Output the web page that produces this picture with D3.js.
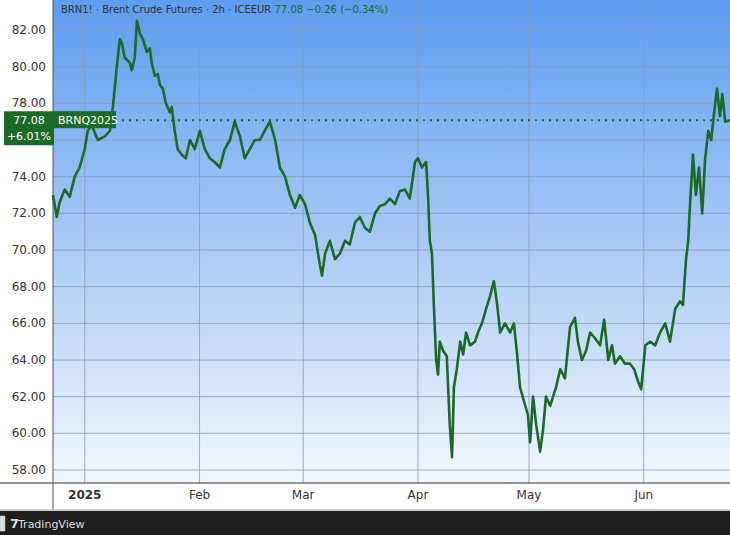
<!DOCTYPE html>
<html>
<head>
<script src="https://d3js.org/d3.v7.min.js"></script>
<style>
  body { margin: 0; background: #fff; }
  svg { display: block; font-family: "DejaVu Sans", sans-serif; }
</style>
</head>
<body>
<svg id="chart" width="730" height="535"></svg>
<script>
// days since 2025-01-01 and price
const days = [-8.6,-7.6,-6.8,-5.4,-4.1,-2.7,-1.4,0,0.8,1.9,3.5,5.4,6.8,7.6,8.9,9.5,10,10.8,12.2,12.7,13.5,14.1,14.9,15.7,16.8,17.6,18.1,18.9,19.7,20.3,21.1,21.9,23,23.5,24.3,25.1,26.2,27.3,28.4,29.7,31.1,32.4,33.8,35.1,36.5,37.8,39.2,40.5,41.9,43.2,44.6,45.9,47.3,48.6,50,51.4,52.7,54.1,55.4,56.8,58.1,59.5,60.8,62.2,63.5,64.1,64.9,66.2,67.6,68.9,70.3,71.6,73,74.3,75.7,77,78.4,79.7,81.1,82.4,83.8,85.1,86.5,87.8,89.2,90,91.1,92.2,92.7,93.2,93.8,94.3,94.9,95.4,95.9,96.8,97.8,98.6,99.2,99.7,100.5,101.4,102.2,103,104.1,105.4,106.2,107.3,108.4,109.5,110.5,111.4,112.2,113.5,114.9,115.9,116.8,117.6,118.6,119.7,120.3,121.1,121.9,123,123.8,124.6,125.7,126.5,127.3,128.4,129.7,131.1,132.4,133.2,134.3,135.4,136.5,137.8,139.2,140.3,141.4,142.4,143.2,144.6,145.9,147.3,148.4,149.5,150.3,151.4,152.7,154.1,155.4,156.8,158.1,159.5,160.8,161.6,162.4,163,163.5,164.3,165.1,165.9,166.8,167.6,168.4,169.2,170,170.8,171.6,172.2,173,174.3];
const prices = [73.0,71.8,72.6,73.3,72.9,74.0,74.5,75.5,76.5,76.8,76.0,76.2,76.5,77.8,80.5,81.5,81.3,80.5,80.2,79.8,80.5,82.5,81.8,81.5,80.8,81.0,80.2,79.5,79.6,79.0,78.8,78.0,77.5,77.8,76.5,75.5,75.2,75.0,76.0,75.5,76.5,75.5,75.0,74.8,74.5,75.5,76.0,77.0,76.2,75.0,75.5,76.0,76.0,76.5,77.0,76.0,74.5,74.0,73.0,72.3,73.0,72.5,71.5,70.8,69.2,68.6,69.8,70.5,69.5,69.8,70.5,70.3,71.5,71.8,71.2,71.0,72.0,72.4,72.5,72.8,72.5,73.2,73.3,72.8,74.8,75.0,74.5,74.8,73.0,70.5,69.8,67.0,64.0,63.2,65.0,64.5,64.2,60.5,58.7,62.5,63.5,65.0,64.3,65.5,64.8,65.0,65.5,66.0,66.8,67.5,68.3,67.0,65.5,66.0,65.5,66.0,64.3,62.5,61.8,61.0,59.5,62.0,60.5,59.0,60.2,62.0,61.5,62.0,62.5,63.5,63.0,65.8,66.3,65.0,64.0,64.5,65.5,65.2,64.8,66.2,64.0,64.8,63.8,64.2,63.8,63.8,63.5,62.8,62.4,64.8,65.0,64.8,65.5,66.0,65.0,66.8,67.2,67.0,69.5,70.5,72.5,75.2,73.0,74.5,72.0,75.0,76.5,76.0,77.5,78.8,77.3,78.5,77.0,77.08];
const priceTicks = [58,60,62,64,66,68,70,72,74,76,78,80,82];
const monthTicks = [["2025-01-01","2025"],["2025-02-01","Feb"],["2025-03-01","Mar"],["2025-04-01","Apr"],["2025-05-01","May"],["2025-06-01","Jun"]];
const lastPrice = 77.08, changePct = "+6.01%", contract = "BRNQ2025";

const W = 730, left = 53, plotBottom = 483, axisBottom = 510;
const svg = d3.select("#chart");
const jan1 = new Date(2025, 0, 1);
const toDate = d => d3.timeHour.offset(jan1, Math.round(d * 24));
const x = d3.scaleTime().domain([toDate(-8.6), toDate(174.3)]).range([left, W]);
const y = d3.scaleLinear().domain([58, 82]).range([470, 30]);
const ly = y(lastPrice);

const defs = svg.append("defs");
const grad = defs.append("linearGradient").attr("id", "bg").attr("x1", 0).attr("x2", 0).attr("y1", 0).attr("y2", 1);
grad.append("stop").attr("offset", "0%").attr("stop-color", "#5d9cef");
grad.append("stop").attr("offset", "100%").attr("stop-color", "#f3f7fd");

svg.append("rect").attr("x", left).attr("y", 0).attr("width", W - left).attr("height", plotBottom).attr("fill", "url(#bg)");
svg.append("rect").attr("x", 0).attr("y", 0).attr("width", left).attr("height", plotBottom).attr("fill", "#fff");

// grid
svg.append("g").selectAll("line").data(priceTicks).join("line")
  .attr("x1", left).attr("x2", W).attr("y1", d => y(d)).attr("y2", d => y(d))
  .attr("stroke", "#8a9bb0").attr("stroke-width", 0.8);
svg.append("g").selectAll("line").data(monthTicks).join("line")
  .attr("x1", d => x(new Date(d[0]+"T00:00"))).attr("x2", d => x(new Date(d[0]+"T00:00")))
  .attr("y1", 0).attr("y2", plotBottom).attr("stroke", "#8a9bb0").attr("stroke-width", 0.8);

// y labels (those hidden under the price label are skipped)
svg.append("g").selectAll("text").data(priceTicks.filter(d => y(d) < ly - 14 || y(d) > ly + 30)).join("text")
  .attr("x", 46).attr("y", d => y(d) + 4).attr("text-anchor", "end")
  .attr("font-size", 12).attr("fill", "#333").text(d => d.toFixed(2));

// axis band
svg.append("line").attr("x1", 0).attr("x2", W).attr("y1", plotBottom).attr("y2", plotBottom).attr("stroke", "#333");
svg.append("line").attr("x1", left).attr("x2", left).attr("y1", 0).attr("y2", axisBottom).attr("stroke", "#555");
svg.append("g").selectAll("text").data(monthTicks).join("text")
  .attr("x", d => x(new Date(d[0]+"T00:00"))).attr("y", 499).attr("text-anchor", "middle")
  .attr("font-size", 12).attr("fill", "#333").attr("font-weight", d => d[1] === "2025" ? "bold" : "normal")
  .text(d => d[1]);
svg.append("line").attr("x1", 0).attr("x2", W).attr("y1", axisBottom).attr("y2", axisBottom).attr("stroke", "#999");

// footer
svg.append("rect").attr("x", 0).attr("y", axisBottom + 1).attr("width", W).attr("height", 535 - axisBottom).attr("fill", "#1f1f1f");
svg.append("text").attr("x", 0).attr("y", 528).attr("font-size", 13).attr("font-weight", "bold").attr("fill", "#ddd").text("\u258C7");
svg.append("text").attr("x", 18).attr("y", 528).attr("font-size", 11).attr("fill", "#ddd").text("TradingView");

// price line
const pts = days.map((d, i) => [toDate(d), prices[i]]);
svg.append("path").datum(pts)
  .attr("d", d3.line().x(d => x(d[0])).y(d => y(d[1])))
  .attr("fill", "none").attr("stroke", "#1d6a26").attr("stroke-width", 2.6).attr("stroke-linejoin", "round");

// last price dotted line
svg.append("line").attr("x1", 115).attr("x2", W).attr("y1", ly).attr("y2", ly)
  .attr("stroke", "#1d6a26").attr("stroke-width", 2).attr("stroke-dasharray", "2,5");

// price label
svg.append("rect").attr("x", 4).attr("y", ly - 9).attr("width", 50).attr("height", 34).attr("fill", "#1d6a26").attr("rx", 1);
svg.append("rect").attr("x", 53).attr("y", ly - 9).attr("width", 63).attr("height", 17).attr("fill", "#1d6a26");
svg.append("text").attr("x", 29).attr("y", ly + 4).attr("text-anchor", "middle").attr("font-size", 11).attr("fill", "#fff").text(lastPrice.toFixed(2));
svg.append("text").attr("x", 29).attr("y", ly + 20).attr("text-anchor", "middle").attr("font-size", 11).attr("fill", "#fff").text(changePct);
svg.append("text").attr("x", 58).attr("y", ly + 4).attr("font-size", 11).attr("fill", "#fff").text(contract);

// header
const hdr = svg.append("text").attr("x", 61).attr("y", 13).attr("font-size", 10);
hdr.append("tspan").attr("fill", "#333").text("BRN1! \u00b7 Brent Crude Futures \u00b7 2h \u00b7 ICEEUR  ");
hdr.append("tspan").attr("fill", "#1d6a26").text("77.08  \u22120.26 (\u22120.34%)");
</script>
</body>
</html>
